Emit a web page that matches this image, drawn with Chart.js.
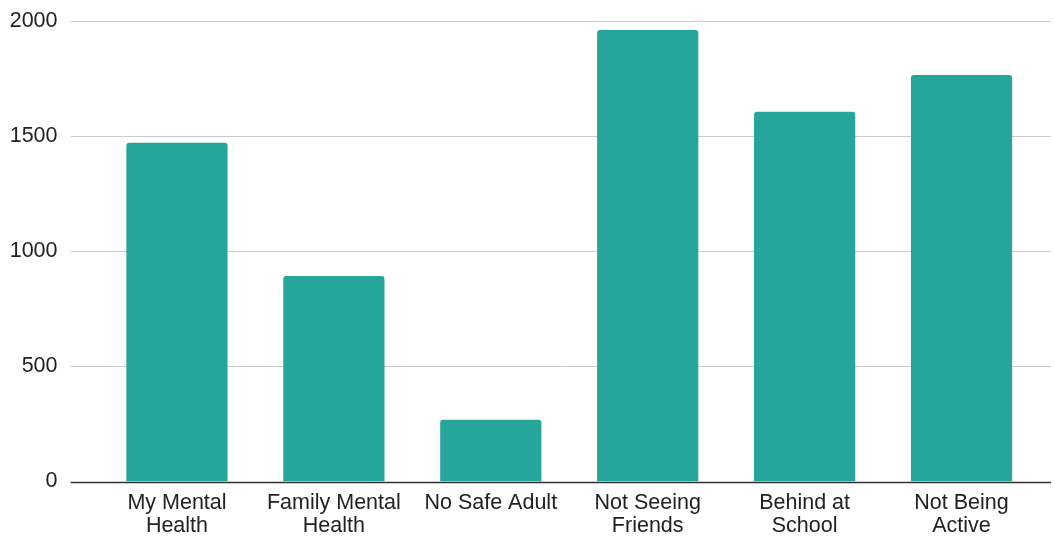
<!DOCTYPE html>
<html>
<head>
<meta charset="utf-8">
<script src="https://cdn.jsdelivr.net/npm/chart.js@4/dist/chart.umd.min.js"></script>
<style>
  html, body { margin: 0; padding: 0; background: #fff; }
  #wrap { width: 1055px; height: 537px; position: relative; }
</style>
</head>
<body>
<div id="wrap"><canvas id="chart"></canvas></div>
<script>
// data
const categories = [
  ['My Mental', 'Health'],
  ['Family Mental', 'Health'],
  'No Safe Adult',
  ['Not Seeing', 'Friends'],
  ['Behind at', 'School'],
  ['Not Being', 'Active']
];
const counts = [1471, 893, 268, 1961, 1606, 1765];
const yTicks = [0, 500, 1000, 1500, 2000];

// gridlines in the original run a bit past the plot area on both sides
const wideGrid = {
  id: 'wideGrid',
  beforeDatasetsDraw(chart) {
    const { ctx, chartArea, scales } = chart;
    ctx.save();
    ctx.strokeStyle = '#cccccc';
    ctx.lineWidth = 1;
    scales.y.ticks.forEach(t => {
      if (t.value === 0) return;
      const y = Math.round(scales.y.getPixelForValue(t.value)) + 0.5;
      ctx.beginPath();
      ctx.moveTo(chartArea.left - 28, y);
      ctx.lineTo(chartArea.right + 11, y);
      ctx.stroke();
    });
    ctx.restore();
  },
  afterDatasetsDraw(chart) {
    const { ctx, chartArea, scales } = chart;
    const y = Math.round(scales.y.getPixelForValue(0)) + 0.5;
    ctx.save();
    ctx.strokeStyle = '#333333';
    ctx.lineWidth = 1.5;
    ctx.beginPath();
    ctx.moveTo(chartArea.left - 28, y);
    ctx.lineTo(chartArea.right + 11, y);
    ctx.stroke();
    ctx.restore();
  }
};

const font = '"Liberation Sans", Arial, sans-serif';

const ctx = document.getElementById('chart');
new Chart(ctx, {
  type: 'bar',
  data: {
    labels: categories,
    datasets: [{
      data: counts,
      backgroundColor: '#26a69a',
      borderWidth: 0,
      borderRadius: { topLeft: 3, topRight: 3 },
      borderSkipped: 'bottom',
      categoryPercentage: 1,
      barPercentage: 0.645
    }]
  },
  options: {
    responsive: true,
    maintainAspectRatio: false,
    animation: false,
    layout: { padding: { top: 21, right: 15, bottom: 0, left: 0 } },
    plugins: {
      legend: { display: false },
      tooltip: { enabled: false }
    },
    scales: {
      x: {
        grid: { display: false, drawTicks: false },
        border: { display: false },
        ticks: {
          color: '#222222',
          padding: 10,
          maxRotation: 0,
          autoSkip: false,
          font: { family: font, size: 21.5, lineHeight: 1.07 }
        },
        afterFit(scale) {
          scale.height = 55.5;
          scale.paddingLeft = 0;
          scale.paddingRight = 0;
        }
      },
      y: {
        min: 0,
        max: 2000,
        afterBuildTicks(scale) { scale.ticks = yTicks.map(v => ({ value: v })); },
        grid: { display: false, drawTicks: false },
        border: { display: false },
        ticks: {
          color: '#222222',
          padding: 41,
          callback: v => String(v),
          font: { family: font, size: 21.5 }
        },
        afterFit(scale) {
          scale.width = 98.5;
          scale.paddingTop = 0;
          scale.paddingBottom = 0;
        }
      }
    }
  },
  plugins: [wideGrid]
});
</script>
</body>
</html>
